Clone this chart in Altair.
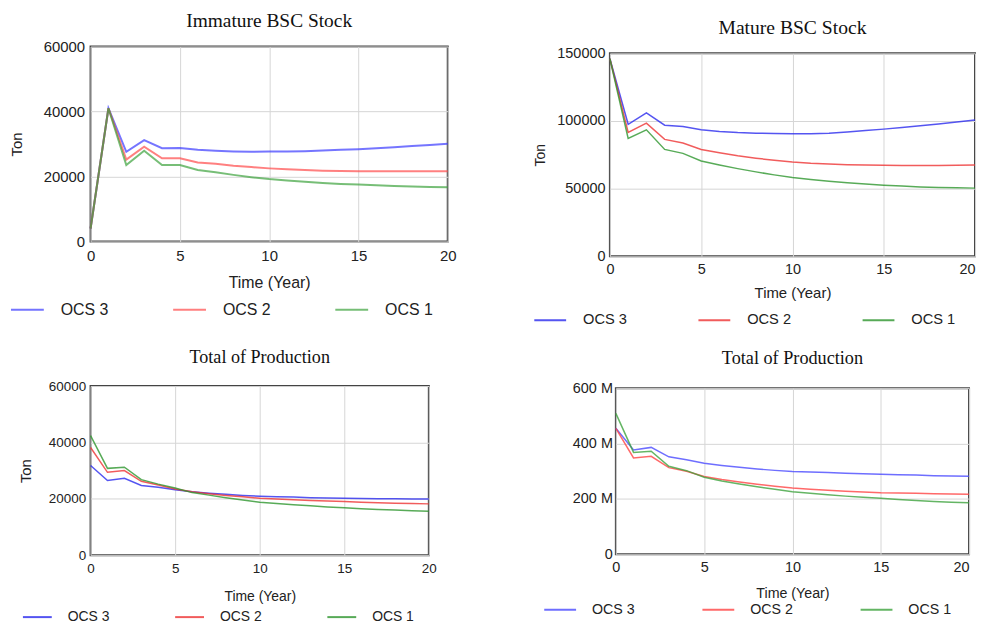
import altair as alt
import pandas as pd

years = list(range(21))
series = ["OCS 3", "OCS 2", "OCS 1"]

# Immature BSC Stock (Ton)
imm_ocs3 = [4000, 41000, 27600, 31200, 28700, 28800, 28200, 27900, 27700, 27600, 27700,
            27700, 27800, 28000, 28200, 28400, 28700, 29000, 29400, 29700, 30100]
imm_ocs2 = [4000, 41000, 25200, 29200, 25600, 25600, 24300, 23900, 23300, 22900, 22500,
            22200, 22000, 21800, 21700, 21600, 21600, 21600, 21600, 21600, 21600]
imm_ocs1 = [4000, 41000, 23500, 27900, 23500, 23500, 22000, 21300, 20500, 19800, 19200,
            18800, 18400, 18000, 17700, 17500, 17300, 17100, 16900, 16800, 16700]

# Mature BSC Stock (Ton)
mat_ocs3 = [146000, 97600, 106000, 96900, 95900, 93500, 92300, 91500, 91000, 90700, 90500,
            90600, 90900, 91800, 92900, 94000, 95200, 96500, 97800, 99200, 100800]
mat_ocs2 = [146000, 91500, 98400, 86400, 83700, 79000, 76500, 74300, 72500, 71000, 69700,
            68800, 68200, 67700, 67400, 67300, 67200, 67100, 67200, 67300, 67500]
mat_ocs1 = [146000, 87100, 93500, 79000, 76100, 70500, 67500, 64800, 62400, 60200, 58200,
            56700, 55400, 54300, 53400, 52600, 51900, 51300, 50900, 50600, 50400]

# Total of Production (Ton)
prod_ocs3 = [31800, 26500, 27300, 24700, 24100, 23200, 22500, 22000, 21600, 21200, 20900,
             20700, 20600, 20400, 20300, 20200, 20100, 20000, 20000, 19900, 19900]
prod_ocs2 = [38200, 29400, 30000, 26200, 24900, 23500, 22500, 21800, 21200, 20700, 20200,
             19900, 19700, 19400, 19200, 19000, 18800, 18600, 18400, 18300, 18200]
prod_ocs1 = [42400, 30800, 31200, 26800, 25200, 23800, 22200, 21300, 20400, 19600, 18800,
             18300, 17900, 17500, 17100, 16800, 16500, 16200, 16000, 15800, 15600]

# Total of Production (millions)
val_ocs3 = [455, 377, 386, 352, 341, 329, 321, 314, 308, 303, 299,
            297, 295, 293, 291, 289, 287, 286, 284, 283, 282]
val_ocs2 = [455, 348, 354, 313, 300, 281, 270, 261, 253, 246, 239,
            235, 231, 228, 225, 222, 221, 220, 219, 218, 217]
val_ocs1 = [509, 368, 372, 318, 302, 278, 265, 254, 244, 235, 226,
            220, 215, 210, 206, 202, 198, 194, 191, 188, 186]

x_ticks = [0, 5, 10, 15, 20]

SANS = "Liberation Sans"
SERIF = "Liberation Serif"
TXT = "#222222"


def make_df(s3, s2, s1):
    rows = []
    for name, vals in zip(series, [s3, s2, s1]):
        for t, v in zip(years, vals):
            rows.append({"t": t, "v": v, "s": name})
    return pd.DataFrame(rows)


def panel(df, title, tfs, toff, W, H, yvals, ytitle, colors, opacity, sw,
          tickfs, ylpad, ytpad, ytfs, xlpad, xtfs, xtpad,
          lgx, lgy, lgfs, symlen, lgoff, lgpad, label_expr=None, last_right=False):
    yaxis_kw = dict(values=yvals, title=ytitle, grid=True, gridColor="#d6d6d6",
                    gridWidth=1, domain=False, ticks=False, labelPadding=ylpad,
                    labelFont=SANS, labelFontSize=tickfs, labelColor=TXT,
                    labelFlush=False, format="d")
    if ytitle:
        yaxis_kw.update(titleFont=SANS, titleFontSize=ytfs, titleFontWeight="normal",
                        titleColor=TXT, titlePadding=ytpad)
    if label_expr:
        yaxis_kw["labelExpr"] = label_expr
    xaxis_kw = dict(values=x_ticks, title="Time (Year)", grid=True,
                    gridColor="#d6d6d6", gridWidth=1, domain=False, ticks=False,
                    labelPadding=xlpad, labelFont=SANS, labelFontSize=tickfs,
                    labelColor=TXT, labelFlush=False,
                    titleFont=SANS, titleFontSize=xtfs, titleFontWeight="normal",
                    titleColor=TXT, titlePadding=xtpad)
    if last_right:
        xaxis_kw["labelAlign"] = {"condition": {"test": "datum.value == 20", "value": "right"},
                                  "value": "center"}
    return alt.Chart(df).mark_line(strokeWidth=sw, opacity=opacity).encode(
        x=alt.X("t:Q", scale=alt.Scale(domain=[0, 20], nice=False),
                axis=alt.Axis(**xaxis_kw)),
        y=alt.Y("v:Q", scale=alt.Scale(domain=[yvals[0], yvals[-1]], nice=False),
                axis=alt.Axis(**yaxis_kw)),
        color=alt.Color("s:N", scale=alt.Scale(domain=series, range=colors),
                        legend=alt.Legend(orient="none", legendX=lgx, legendY=lgy,
                                          direction="horizontal", columns=3, title=None,
                                          symbolType="stroke", symbolSize=symlen * symlen,
                                          symbolStrokeWidth=2, labelFont=SANS,
                                          labelFontSize=lgfs, labelColor=TXT,
                                          labelOffset=lgoff, columnPadding=lgpad,
                                          padding=0)),
    ).properties(
        width=W, height=H,
        title=alt.Title(title, font=SERIF, fontSize=tfs, fontWeight="normal",
                        offset=toff, anchor="middle", color="#111111", frame="group"),
    )


p1 = panel(make_df(imm_ocs3, imm_ocs2, imm_ocs1), "Immature BSC Stock", 19.5, 8,
           359, 196, [0, 20000, 40000, 60000], "Ton",
           ["#3a3aff", "#ff4a4a", "#3da33d"], 0.7, 2,
           15, 6, 18.5, 15, 7, 16, 11, -81, 246.8, 16, 33, 16, 60)
p2 = panel(make_df(mat_ocs3, mat_ocs2, mat_ocs1), "Mature BSC Stock", 19.7, 7.5,
           367, 204, [0, 50000, 100000, 150000], "Ton",
           ["#2a2aee", "#ee3333", "#2e962e"], 0.8, 1.5,
           14.5, 5, 9, 14, 6, 15, 10, -77, 251, 14.7, 32, 16, 67, last_right=True)
p3 = panel(make_df(prod_ocs3, prod_ocs2, prod_ocs1), "Total of Production", 18.2, 12,
           340, 170, [0, 20000, 40000, 60000], "Ton",
           ["#2a2aee", "#ee3333", "#2e962e"], 0.8, 1.5,
           13.5, 5, 15, 15, 6.5, 14, 15, -69, 216.5, 14, 29, 15, 61)
p4 = panel(make_df(val_ocs3, val_ocs2, val_ocs1), "Total of Production", 18.3, 11.8,
           355, 167, [0, 200, 400, 600], None,
           ["#4a4aff", "#ff4444", "#3da33d"], 0.8, 1.5,
           14.5, 3.5, 0, 14, 6.5, 14.3, 12.6, -73, 205.5, 14.3, 32, 15, 64,
           label_expr="datum.value == 0 ? '0' : datum.value + ' M'", last_right=True)

left = alt.vconcat(p1, p3, spacing=145.3, bounds="flush").resolve_scale(
    color="independent", x="independent", y="independent").resolve_legend(color="independent")
right = alt.vconcat(p2, p4, spacing=132.5, bounds="flush", center=True).resolve_scale(
    color="independent", x="independent", y="independent").resolve_legend(color="independent")

chart = alt.hconcat(left, right, spacing=75, bounds="full", center=True).resolve_scale(
    color="independent", x="independent", y="independent"
).resolve_legend(color="independent").properties(
    padding={"left": 0, "top": 0, "right": 0, "bottom": 0}
).configure_view(stroke="#444444", strokeWidth=2)

chart.save("out.html", embed_options={"renderer": "svg", "actions": False})
